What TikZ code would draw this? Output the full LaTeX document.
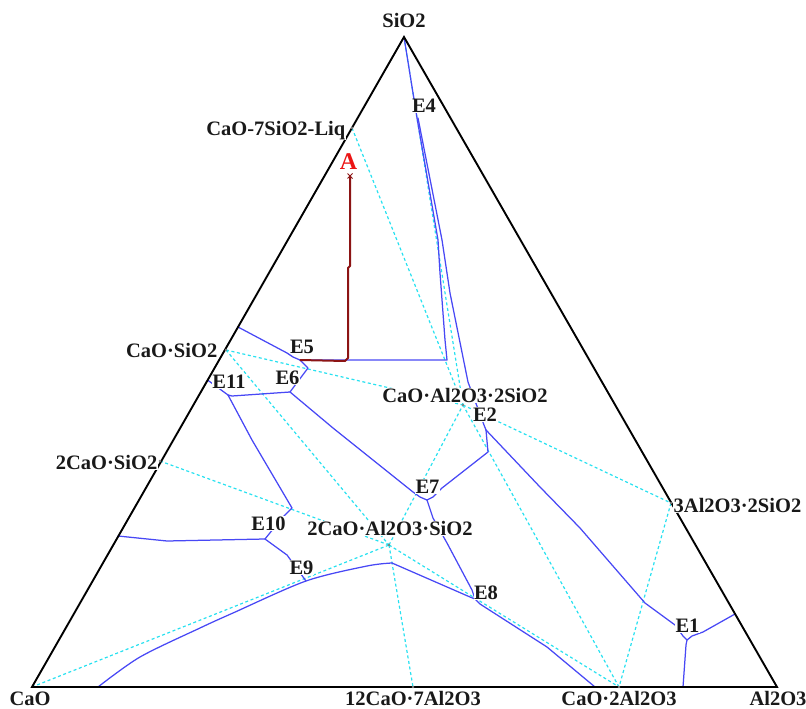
\documentclass[tikz,border=0pt]{standalone}
\usepackage{fontspec}
\usetikzlibrary{calc}
\setmainfont{Liberation Serif}
\definecolor{bluec}{RGB}{72,72,245}
\definecolor{cyanc}{RGB}{40,225,240}
\definecolor{brownc}{RGB}{140,20,20}
\definecolor{redc}{RGB}{235,20,20}
\begin{document}
\begin{tikzpicture}[x=1pt,y=-1pt,
  lbl/.style={font=\fontsize{20.5}{24}\selectfont\bfseries, fill=white, inner sep=0.5pt, text=black!90},
  bnd/.style={draw=bluec, line width=1.25pt, line join=round, line cap=round},
  tie/.style={draw=cyanc, line width=1.2pt, dash pattern=on 3pt off 2.6pt},
  edgeline/.style={draw=black, line width=1.9pt, line join=miter},
  crpath/.style={draw=brownc, line width=2pt, line join=round},
  cmp/.style={fill=gray, draw=none}]
\useasboundingbox (0,0) rectangle (806,709);
% vertices
\coordinate (S) at (404,37);
\coordinate (C) at (32,687);
\coordinate (Al) at (777,687);
% compounds
\coordinate (CS7) at (352,128);
\coordinate (CS) at (226,350);
\coordinate (C2S) at (160,461);
\coordinate (CAS2) at (463,405);
\coordinate (A3S2) at (671,503);
\coordinate (C2AS) at (389,545);
\coordinate (C12A7) at (413,687);
\coordinate (CA2) at (619,687);
% invariant points
\coordinate (E4) at (415,105);
\coordinate (E5) at (300,360);
\coordinate (E6) at (290,392);
\coordinate (E11) at (228,395);
\coordinate (E10) at (265,539);
\coordinate (E9) at (306,581);
\coordinate (Pk) at (392,563);
\coordinate (E7) at (427,500);
\coordinate (E8) at (475,599);
\coordinate (E2) at (486,430);
\coordinate (E1) at (687,640);
\coordinate (Kc) at (447,360);
% tie lines
\draw[tie] (CS7) -- (CAS2);
\draw[tie] (S) -- (CAS2);
\draw[tie] (CS) -- (CAS2);
\draw[tie] (CS) -- (C2AS);
\draw[tie] (C2S) -- (C2AS);
\draw[tie] (C) -- (C2AS);
\draw[tie] (C2AS) -- (C12A7);
\draw[tie] (C2AS) -- (CA2);
\draw[tie] (C2AS) -- (CAS2);
\draw[tie] (CAS2) -- (CA2);
\draw[tie] (CAS2) -- (A3S2);
\draw[tie] (A3S2) -- (CA2);
% boundary curves
\draw[bnd] (S) -- (413,93) -- (E4) -- (417,118) -- (438,240) -- (440,273) -- (445,340) -- (Kc) -- (E5);
\draw[bnd] (E5) -- (293,357) -- (287,353) -- (238,327);
\draw[bnd] (E5) -- (308,368) -- (302,376) -- (E6);
\draw[bnd] (E6) -- (232,396) -- (E11);
\draw[bnd] (E11) -- (207.5,380);
\draw[bnd] (E11) -- (252,440) -- (292,508) -- (282,518) -- (E10);
\draw[bnd] (E10) -- (167,541) -- (118,536);
\draw[bnd] (E10) -- (287,555) -- (E9);
\draw[bnd] plot[smooth, tension=0.5] coordinates {(98,687) (140,657) (200,628) (233,613) (306,581) (367,566) (392,563)};
\draw[bnd] (Pk) -- (470,597) -- (E8);
\draw[bnd] (E6) -- (333,428) -- (413,492) -- (420,497) -- (E7);
\draw[bnd] (E7) -- (433,518) -- (447,543) -- (472,590) -- (E8);
\draw[bnd] (E7) -- (433,497) -- (442,488) -- (488,452) -- (E2);
\draw[bnd] (E2) -- (484,425) -- (468,382) -- (450,293) -- (442,240) -- (418,118);
\draw[bnd] (E2) -- (540,487) -- (580,528) -- (645,603) -- (675,625) -- (683,636) -- (E1);
\draw[bnd] (E1) -- (692,636) -- (703,632) -- (735,614);
\draw[bnd] (E1) -- (686,645) -- (683,687);
\draw[bnd] (E8) -- (480,604) -- (547,647) -- (595,687);
% triangle
\draw[edgeline] (S) -- (C) -- (Al) -- cycle;
% crystallization path
\coordinate (Apt) at (350,176);
\draw[crpath] (Apt) -- (350,266) -- (348,268) -- (348,358) -- (345,361) -- (E5);
\draw[brownc, line width=0.8pt] ($(Apt)+(-2.5,-2.5)$) -- ($(Apt)+(2.5,2.5)$) ($(Apt)+(-2.5,2.5)$) -- ($(Apt)+(2.5,-2.5)$);
% labels
\node[lbl, anchor=base] (lS) at (404,27.5) {SiO2};
\node[lbl, anchor=base] (lE4) at (424,112.5) {E4};
\node[lbl, anchor=base east] (lCS7) at (346,135) {CaO-7SiO2-Liq};
\node[font=\fontsize{24}{28}\selectfont\bfseries, text=redc, inner sep=0pt, anchor=base] (lA) at (348.5,169) {A};
\node[lbl, anchor=base east] (lCS) at (218,357) {CaO·SiO2};
\node[lbl, anchor=base] (lE5) at (302,353) {E5};
\node[lbl, anchor=base] (lE6) at (287.5,384) {E6};
\node[lbl, anchor=base] (lE11) at (229,388) {E11};
\node[lbl, anchor=base] (lCAS2) at (465,402.5) {CaO·Al2O3·2SiO2};
\node[lbl, anchor=base] (lE2) at (485,421) {E2};
\node[lbl, anchor=base east] (lC2S) at (158,469) {2CaO·SiO2};
\node[lbl, anchor=base] (lE7) at (427.5,493) {E7};
\node[lbl, anchor=base west] (lA3S2) at (673,512) {3Al2O3·2SiO2};
\node[lbl, anchor=base] (lE10) at (268.5,530) {E10};
\node[lbl, anchor=base] (lC2AS) at (390,535.5) {2CaO·Al2O3·SiO2};
\node[lbl, anchor=base] (lE9) at (301.5,574) {E9};
\node[lbl, anchor=base] (lE8) at (486,599) {E8};
\node[lbl, anchor=base] (lE1) at (687.5,632) {E1};
\node[lbl, anchor=base] (lC) at (30,705.5) {CaO};
\node[lbl, anchor=base] (lC12A7) at (413,705.5) {12CaO·7Al2O3};
\node[lbl, anchor=base] (lCA2) at (619,705.5) {CaO·2Al2O3};
\node[lbl, anchor=base] (lAl) at (778,705.5) {Al2O3};
% compound markers
\foreach \p in {CS7,CS,C2S,CAS2,A3S2,C2AS,C12A7,CA2}
  \fill[cmp] (\p) circle (1.3);
\end{tikzpicture}
\end{document}
